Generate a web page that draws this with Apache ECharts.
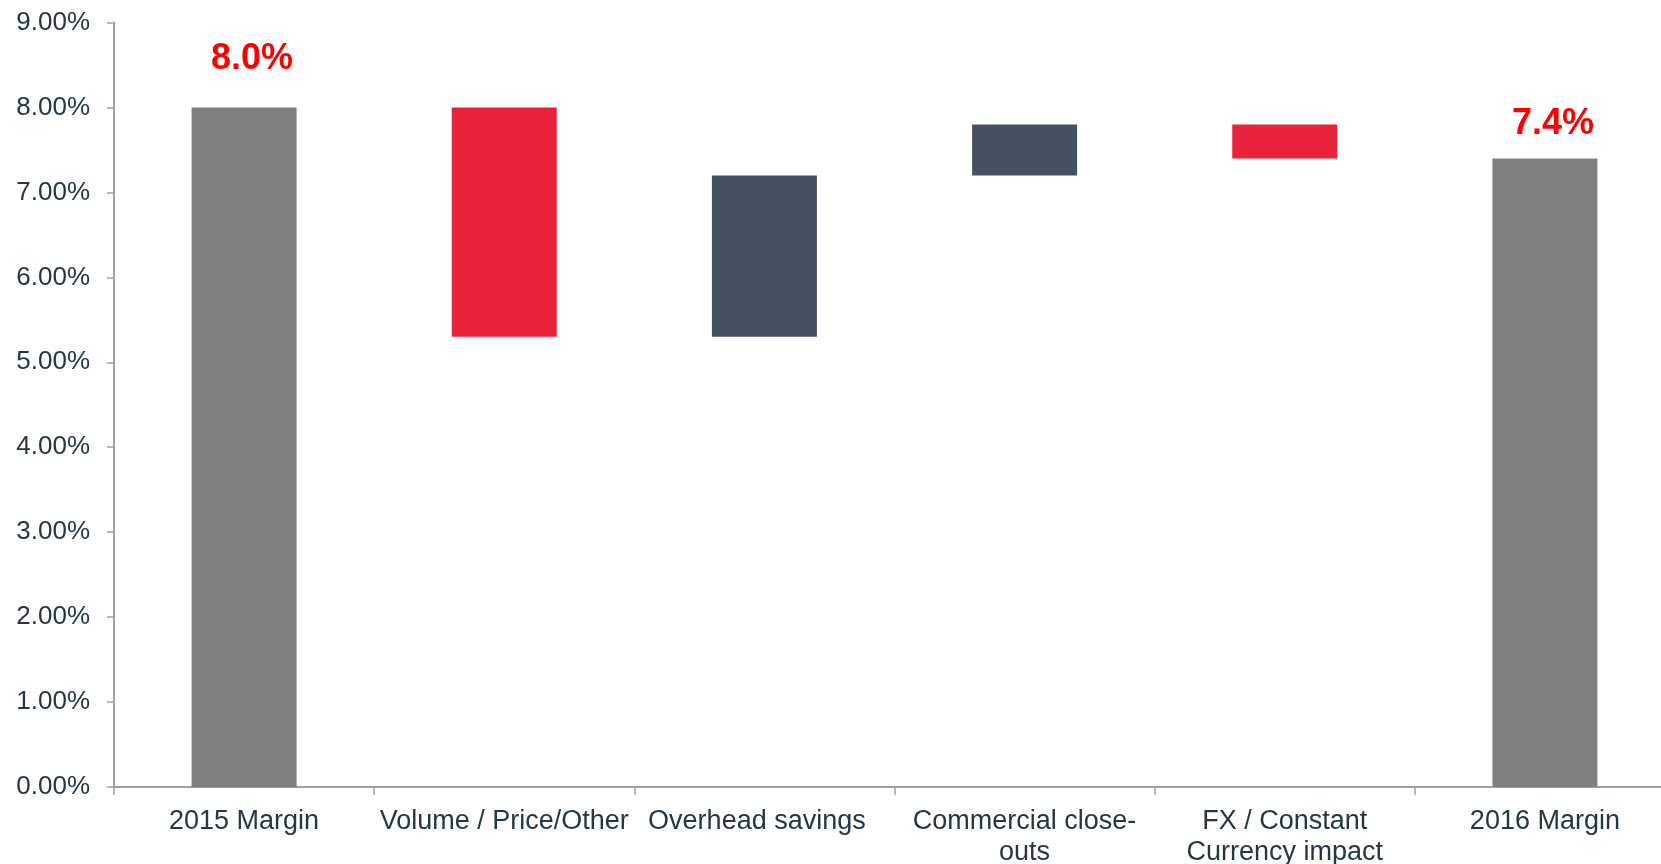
<!DOCTYPE html>
<html>
<head>
<meta charset="utf-8">
<script src="https://cdn.jsdelivr.net/npm/echarts@6/dist/echarts.min.js"></script>
<style>
html,body{margin:0;padding:0;background:#fff;}
#chart{width:1661px;height:864px;}
</style>
</head>
<body>
<div id="chart"></div>
<script>
// ---- data ----
const categories = ['2015 Margin', 'Volume / Price/Other', 'Overhead savings', 'Commercial close-\nouts', 'FX / Constant\nCurrency impact', '2016 Margin'];
const startMargin = 8.0;
const changes = [-2.7, 1.9, 0.6, -0.4];
const endMargin = 7.4;
const totalLabels = ['8.0%', '7.4%'];
const yTicks = [0, 1, 2, 3, 4, 5, 6, 7, 8, 9];

// ---- build waterfall ----
const GRAY = '#808080', RED = '#E8223A', SLATE = '#45525F';
const base = [0];
const heights = [startMargin];
const colors = [GRAY];
let running = startMargin;
changes.forEach(c => {
  const next = running + c;
  base.push(Math.min(running, next));
  heights.push(Math.abs(c));
  colors.push(c < 0 ? RED : SLATE);
  running = next;
});
base.push(0);
heights.push(endMargin);
colors.push(GRAY);

const labelDist = [30, 16];
const valueData = heights.map((h, i) => {
  const item = { value: h, itemStyle: { color: colors[i] } };
  if (i === 0 || i === heights.length - 1) {
    const k = i === 0 ? 0 : 1;
    item.label = {
      show: true, position: 'top', distance: labelDist[k], offset: [8, 0],
      formatter: totalLabels[k], color: '#FF0000', fontSize: 36, fontWeight: 'bold',
      fontFamily: 'Liberation Sans, Arial, sans-serif'
    };
  }
  return item;
});

const categoryData = categories.map((c, i) =>
  i === 2 ? { value: c, textStyle: { padding: [0, 15, 0, 0] } } : c);

const chart = echarts.init(document.getElementById('chart'), null, { renderer: 'canvas' });
chart.setOption({
  animation: false,
  backgroundColor: '#fff',
  textStyle: { fontFamily: 'Liberation Sans, Arial, sans-serif' },
  grid: { left: 114, top: 22.5, right: -14, bottom: 77, containLabel: false, outerBoundsMode: 'none' },
  xAxis: {
    type: 'category',
    data: categoryData,
    axisLine: { lineStyle: { color: '#A0A0A0', width: 2 } },
    axisTick: { show: true, length: 8, lineStyle: { color: '#A0A0A0', width: 1.5 } },
    axisLabel: { color: '#253746', fontSize: 27, lineHeight: 31, margin: 19, interval: 0,
      fontFamily: 'Liberation Sans, Arial, sans-serif' }
  },
  yAxis: {
    type: 'value',
    min: yTicks[0], max: yTicks[yTicks.length - 1], interval: 1,
    splitLine: { show: false },
    axisLine: { show: true, lineStyle: { color: '#A0A0A0', width: 2 } },
    axisTick: { show: true, length: 7, lineStyle: { color: '#A0A0A0', width: 1.5 } },
    axisLabel: { color: '#253746', fontSize: 26, margin: 24,
      formatter: v => v.toFixed(2) + '%',
      fontFamily: 'Liberation Sans, Arial, sans-serif' }
  },
  series: [
    { type: 'bar', stack: 'w', data: base, barWidth: 105,
      itemStyle: { color: 'transparent' }, emphasis: { disabled: true }, silent: true },
    { type: 'bar', stack: 'w', data: valueData, barWidth: 105 }
  ]
});
</script>
</body>
</html>
